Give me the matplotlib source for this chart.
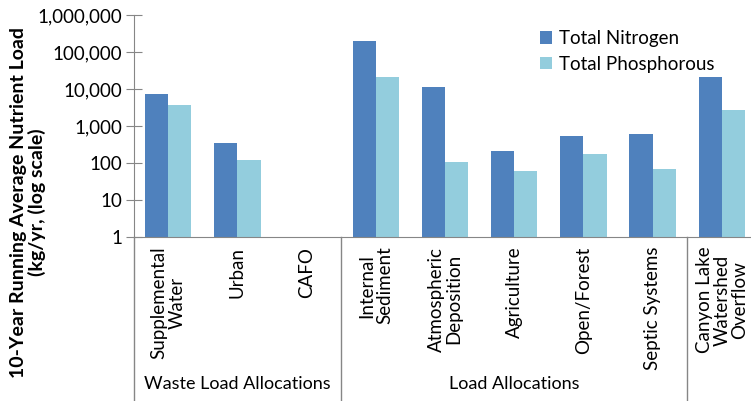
import numpy as np
import matplotlib
matplotlib.use("Agg")
import matplotlib.pyplot as plt
from matplotlib.ticker import FixedLocator, FuncFormatter, NullLocator
import matplotlib.transforms as mtransforms

plt.rcParams['font.family'] = ['Lato', 'DejaVu Sans']

categories = ["Supplemental\nWater", "Urban", "CAFO",
              "Internal\nSediment", "Atmospheric\nDeposition", "Agriculture",
              "Open/Forest", "Septic Systems",
              "Canyon Lake\nWatershed\nOverflow"]
nitrogen = [7300, 350, np.nan, 195000, 11600, 210, 550, 600, 20600]
phosphorous = [3700, 124, np.nan, 21000, 107, 59, 177, 68, 2760]
groups = ["Waste Load Allocations", "Load Allocations"]
group_spans = [(0, 2), (3, 7)]
y_ticks = [1, 10, 100, 1000, 10000, 100000, 1000000]

fig = plt.figure(figsize=(7.51, 4.01), dpi=100)
ax = fig.add_axes([133.5/751, 164/401, 623/751, 222/401])

x = np.arange(len(categories))
w = 0.335
ax.bar(x - w/2, nitrogen, w, color='#4F81BD', label='Total Nitrogen')
ax.bar(x + w/2, phosphorous, w, color='#93CDDD', label='Total Phosphorous')

ax.set_yscale('log')
ax.set_ylim(1, 1e6)
ax.set_xlim(-0.5, 8.5)
ax.yaxis.set_major_locator(FixedLocator(y_ticks))
ax.yaxis.set_minor_locator(NullLocator())
ax.yaxis.set_major_formatter(FuncFormatter(lambda v, p: f"{int(v):,}"))
ax.tick_params(axis='y', labelsize=13.5, length=12, direction='inout', color='#868686', pad=2)

ax.set_xticks(x)
ax.set_xticklabels(categories, rotation=90, fontsize=13.5, linespacing=1.05)
ax.tick_params(axis='x', length=0, pad=7)

for s in ['top', 'right']:
    ax.spines[s].set_visible(False)
for s in ['left', 'bottom']:
    ax.spines[s].set_color('#868686')

# separators under the axis
trans = mtransforms.blended_transform_factory(ax.transData, ax.transAxes)
for xs in [-0.5, 2.5, 7.5]:
    ax.plot([xs, xs], [0, -0.74], color='#868686', lw=1, transform=trans, clip_on=False)

for name, (a, b) in zip(groups, group_spans):
    ax.text((a + b) / 2, -0.66, name, transform=trans, ha='center', va='center', fontsize=13)

ax.legend(loc='upper left', bbox_to_anchor=(527/751, 1 - 17/401), bbox_transform=fig.transFigure,
          frameon=False, fontsize=13.5, handlelength=0.65, handleheight=0.65,
          handletextpad=0.35, labelspacing=0.45, borderpad=0.2)

fig.text(28/751, 1 - 202/401, "10-Year Running Average Nutrient Load\n(kg/yr, (log scale)",
         rotation=90, ha='center', va='center', fontsize=14, fontweight='bold', linespacing=1.1)

plt.savefig('out.png', dpi=100)
